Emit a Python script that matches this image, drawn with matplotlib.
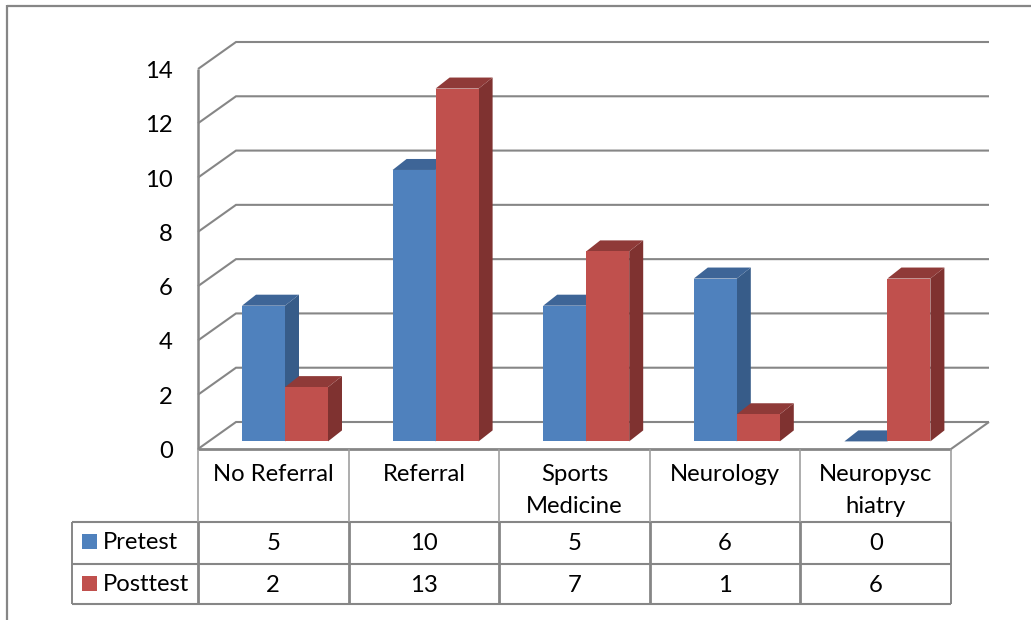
import matplotlib
matplotlib.use("Agg")
import numpy as np
import matplotlib.pyplot as plt
from matplotlib.patches import Polygon

plt.rcParams['font.family'] = ['Lato', 'DejaVu Sans']
plt.rcParams['lines.solid_capstyle'] = 'butt'

# Data
categories = ["No Referral", "Referral", "Sports\nMedicine", "Neurology", "Neuropysc\nhiatry"]
pretest = [5, 10, 5, 6, 0]
posttest = [2, 13, 7, 1, 6]
yticks = [0, 2, 4, 6, 8, 10, 12, 14]

W, H = 1031, 620
GRAY = "#868686"
FONT = 17.2

fig = plt.figure(figsize=(W / 100, H / 100), dpi=100)

# Overlay in pixel units for the outer frame and table rules
page = fig.add_axes([0, 0, 1, 1])
page.set_xlim(0, W)
page.set_ylim(H, 0)
page.axis("off")

# Front plane of the 3D box: one x unit per category, y in data values
left, right, floor, top = 198, 951, 449, 69
ax = fig.add_axes([left / W, 1 - floor / H, (right - left) / W, (floor - top) / H])
ax.set_xlim(0, len(categories))
ax.set_ylim(0, yticks[-1])
ax.axis("off")

unit_x = (right - left) / len(categories)
unit_y = (floor - top) / yticks[-1]
wall_dx, wall_dy = 38 / unit_x, 27 / unit_y
base_dy = 7.6 / unit_y
bar_dx, bar_dy = 14 / unit_x, 11 / unit_y
bar_w = 43 / unit_x
bar_start = 44 / unit_x


def grid_line(v):
    ax.plot([0, wall_dx, len(categories) + wall_dx], [v, v + wall_dy, v + wall_dy],
            color=GRAY, lw=1.5, clip_on=False, zorder=1, solid_joinstyle="miter")


for v in yticks:
    grid_line(v)
    ax.text(-25 / unit_x, v - 2.5 / unit_y, str(v), ha="right", va="center",
            fontsize=FONT, color="black")

# Floor edge on the right hand side and the axis lines
n = len(categories)
ax.plot([n, n + wall_dx], [0, wall_dy], color=GRAY, lw=1.5, clip_on=False, zorder=1)
ax.plot([0, 0], [0, yticks[-1]], color=GRAY, lw=1.8, clip_on=False, zorder=1)


def draw_bars(values, offset, front, side, roof, z):
    x = np.arange(len(values)) + bar_start + offset
    ax.bar(x, values, width=bar_w, bottom=base_dy, align="edge", color=front,
           clip_on=False, zorder=z + 1)
    for xi, v in zip(x, values):
        y0, y1 = base_dy, base_dy + v
        ax.add_patch(Polygon([(xi + bar_w, y0), (xi + bar_w + bar_dx, y0 + bar_dy),
                              (xi + bar_w + bar_dx, y1 + bar_dy), (xi + bar_w, y1)],
                             facecolor=side, edgecolor="none", clip_on=False, zorder=z))
        ax.add_patch(Polygon([(xi, y1), (xi + bar_dx, y1 + bar_dy),
                              (xi + bar_w + bar_dx, y1 + bar_dy), (xi + bar_w, y1)],
                             facecolor=roof, edgecolor="none", clip_on=False, zorder=z))


draw_bars(pretest, 0, "#4F81BD", "#375C89", "#3E6597", 2)
draw_bars(posttest, bar_w, "#C0504D", "#7F3230", "#8F3A38", 4)

# Outer frame
page.plot([7, 7], [H, 5], color=GRAY, lw=1.6)
page.plot([7, W], [5.5, 5.5], color=GRAY, lw=1.6)

# Data table below the plot
row_y = [449, 521.5, 563.5, 604]
col_x = left + np.arange(len(categories) + 1) * unit_x
table_left = 72
page.plot([left, right], [row_y[0], row_y[0]], color=GRAY, lw=2.0)
for y in row_y[1:]:
    page.plot([table_left, right], [y, y], color=GRAY, lw=1.5)
page.plot([table_left, table_left], [row_y[1], row_y[3]], color=GRAY, lw=1.4)
for i, cx in enumerate(col_x):
    page.plot([cx, cx], [row_y[0], row_y[1]], color="#A0A0A0", lw=1.2)
    page.plot([cx, cx], [row_y[1], row_y[3]], color=GRAY, lw=2.0 if i < 5 else 1.4)

for i, name in enumerate(categories):
    cx = col_x[i] + unit_x / 2
    page.text(cx, 464, name, ha="center", va="top", fontsize=FONT, color="black",
              linespacing=1.65)
    page.text(cx, 543, str(pretest[i]), ha="center", va="center", fontsize=FONT, color="black")
    page.text(cx, 585, str(posttest[i]), ha="center", va="center", fontsize=FONT, color="black")

# Series keys in the first table column
for y, label, colour in [(541.5, "Pretest", "#4F81BD"), (583.5, "Posttest", "#C0504D")]:
    page.add_patch(plt.Rectangle((82, y - 7.5), 15, 15, facecolor=colour, edgecolor="none"))
    page.text(103, y + 1, label, ha="left", va="center", fontsize=FONT, color="black")

fig.savefig("out.png", dpi=100)
